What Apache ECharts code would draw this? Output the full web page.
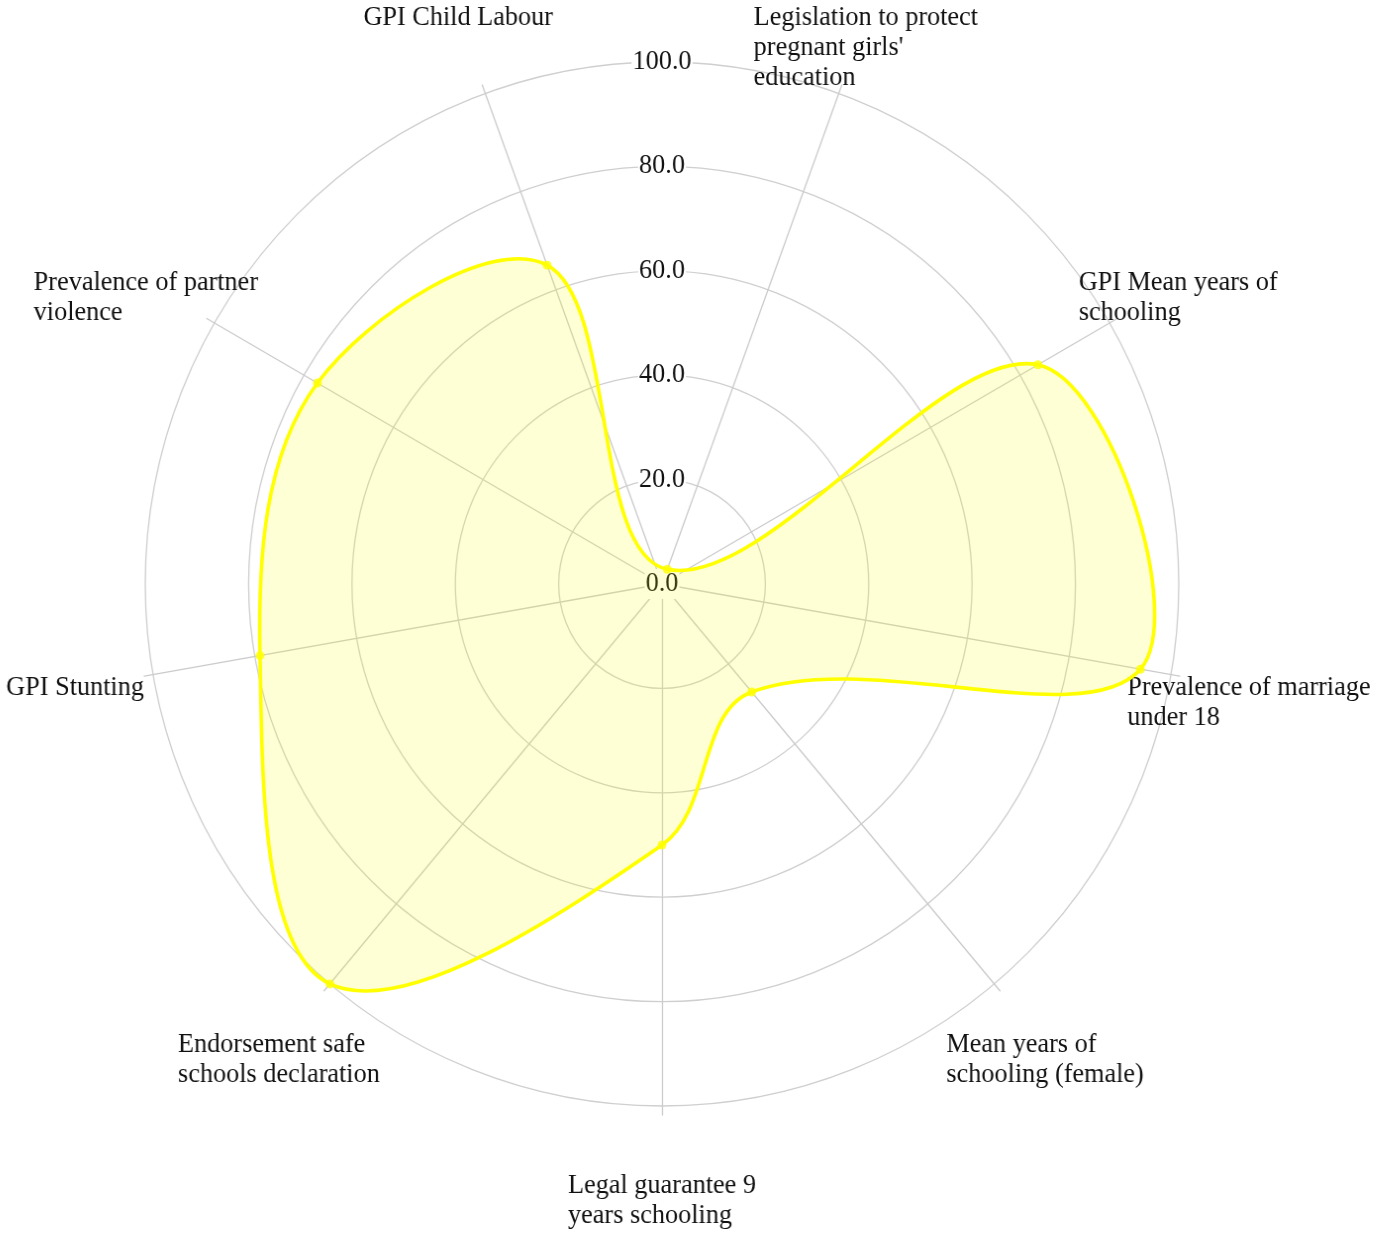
<!DOCTYPE html>
<html>
<head>
<meta charset="utf-8">
<script src="https://cdn.jsdelivr.net/npm/echarts@6/dist/echarts.min.js"></script>
<style>
html,body{margin:0;padding:0;background:#fff;overflow:hidden;}
#chart{width:1387px;height:1234px;transform:scaleX(0.99);transform-origin:662px 584px;}
</style>
</head>
<body>
<div id="chart"></div>
<script>
// Indicators in counter-clockwise order starting at the upper-left axis
var indicatorNames = [
  "GPI Child Labour",
  "Prevalence of partner\nviolence",
  "GPI Stunting",
  "Endorsement safe\nschools declaration",
  "Legal guarantee 9\nyears schooling",
  "Mean years of\nschooling (female)",
  "Prevalence of marriage\nunder 18",
  "GPI Mean years of\nschooling",
  "Legislation to protect\npregnant girls'\neducation"
];
var seriesValues = [65, 77, 79, 100, 50, 27, 94, 84, 3];
var tickValues = [0, 20, 40, 60, 80, 100];

var FONT = "'Liberation Serif', 'Times New Roman', serif";
var step = 360 / indicatorNames.length;
var polarData = seriesValues.map(function (v, i) { return [v, i * step]; });

var chart = echarts.init(document.getElementById('chart'));
chart.setOption({
  backgroundColor: '#ffffff',
  animation: false,
  radar: {
    center: [662, 584],
    radius: 531,
    startAngle: 110,
    shape: 'circle',
    splitNumber: 5,
    indicator: indicatorNames.map(function (n) { return { name: n, min: 0, max: 100 }; }),
    splitLine: { show: false },
    splitArea: { show: false },
    axisLine: { lineStyle: { color: '#cccccc', width: 1.3 } },
    axisTick: { show: false },
    axisLabel: { show: false },
    nameGap: 71,
    axisName: {
      color: '#111',
      fontFamily: FONT,
      fontSize: 26.5,
      lineHeight: 30,
      align: 'center',
      verticalAlign: 'middle',
      formatter: function (value) {
        var lines = value.split('\n');
        var pre = '';
        for (var k = 1; k < lines.length; k++) pre += '\n';
        return pre + lines.map(function (l) { return '{a|' + l + '}'; }).join('\n');
      },
      rich: {
        a: { fontFamily: FONT, fontSize: 26.5, lineHeight: 30, color: '#111', align: 'left' }
      }
    },
    z: 1
  },
  polar: [
    { center: [662, 584], radius: 522 },
    { center: [662, 584], radius: 522 }
  ],
  angleAxis: [
    { polarIndex: 0, type: 'value', min: 0, max: 360, startAngle: 110, clockwise: false, show: false },
    { polarIndex: 1, type: 'value', min: 0, max: 360, startAngle: 90, show: false }
  ],
  radiusAxis: [
    {
      polarIndex: 0, type: 'value', min: 0, max: 100, interval: 20,
      axisLine: { show: false }, axisTick: { show: false }, axisLabel: { show: false },
      splitLine: { show: true, lineStyle: { color: '#cfcfcf', width: 1.3 } },
      z: 1
    },
    {
      polarIndex: 1, type: 'value', min: 0, max: 100, interval: 20,
      axisLine: { show: false }, axisTick: { show: false }, splitLine: { show: false },
      axisLabel: {
        show: true, margin: 0, align: 'center', verticalAlign: 'middle',
        showMinLabel: true, showMaxLabel: true,
        formatter: function (v) { return Number(v).toFixed(1); },
        fontFamily: FONT, fontSize: 26.5, lineHeight: 30, color: '#111',
        backgroundColor: '#ffffff', padding: [0, 1]
      },
      data: tickValues,
      z: 3
    }
  ],
  series: [
    {
      type: 'custom',
      coordinateSystem: 'polar',
      polarIndex: 0,
      data: polarData,
      z: 5,
      silent: true,
      renderItem: function (params, api) {
        if (params.dataIndex !== 0) return;
        var pts = polarData.map(function (d) { return api.coord(d); });
        return {
          type: 'polygon',
          shape: { points: pts, smooth: 0.36 },
          style: { fill: 'rgba(255,255,0,0.16)', stroke: '#ffff00', lineWidth: 3.6 }
        };
      }
    },
    {
      type: 'scatter',
      coordinateSystem: 'polar',
      polarIndex: 0,
      data: polarData,
      symbol: 'circle',
      symbolSize: 9,
      itemStyle: { color: '#ffff00' },
      z: 6,
      silent: true
    }
  ]
});
</script>
</body>
</html>
